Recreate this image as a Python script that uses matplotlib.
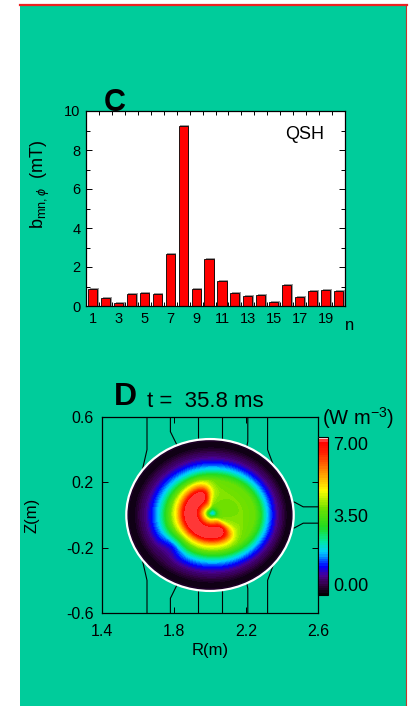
import numpy as np
import matplotlib
matplotlib.use("Agg")
import matplotlib.pyplot as plt
from matplotlib.colors import LinearSegmentedColormap
from matplotlib.patches import Rectangle, Circle
from matplotlib.lines import Line2D
from matplotlib.ticker import MultipleLocator, FixedLocator

plt.rcParams['font.family'] = ['Liberation Sans', 'DejaVu Sans']
plt.rcParams['axes.unicode_minus'] = False
plt.rcParams['mathtext.fontset'] = 'custom'
plt.rcParams['mathtext.rm'] = 'Liberation Sans'
plt.rcParams['mathtext.it'] = 'Liberation Sans:italic'

# ---- panel C : toroidal mode spectrum (QSH) ----
n_modes = np.arange(1, 21)
b_mn = [0.86, 0.43, 0.14, 0.63, 0.68, 0.63, 2.65, 9.21, 0.89, 2.40,
        1.27, 0.68, 0.50, 0.58, 0.19, 1.10, 0.48, 0.75, 0.80, 0.75]
n_ticklabels = ['1', '3', '5', '7', '9', '11', '13', '15', '17', '19']

# ---- panel D : radiated power emissivity ----
R0, a_minor = 2.0, 0.465
# radial emissivity profile (W m^-3) vs normalised radius
rho_pts = [0.0, 0.3, 0.45, 0.52, 0.6, 0.68, 0.76, 0.83, 0.9, 0.96, 1.0]
emis_pts = [3.8, 3.9, 3.7, 3.1, 2.0, 1.3, 0.75, 0.45, 0.12, 0.18, 0.25]
# helical crescent (centre R, z, radius, width, angle, amplitude)
cres_R, cres_z, cres_r, cres_w, cres_th, cres_amp = 2.01, 0.01, 0.118, 0.07, 205.0, 3.6
# flux lines outside the plasma
line_R_far = [1.65, 1.78, 1.935, 2.065, 2.21, 2.32]
line_z_bend = [0.40, 0.51, 0.47, 0.47, 0.45, 0.40]
line_R_end = [1.625, 1.815, 1.935, 2.065, 2.205, 2.35]
side_R = [2.467, 2.518, 2.6]
side_z = [0.08, 0.05, 0.05]

cb_ticks = [0.0, 3.5, 7.0]

W, H = 412, 706
fig = plt.figure(figsize=(W / 100, H / 100), dpi=100, facecolor='white')

# green panel with red border
fig.patches.append(Rectangle((20 / W, 0), 386 / W, 1 - 5 / H, transform=fig.transFigure,
                             facecolor='#00cc9b', edgecolor='none', zorder=-5))
fig.lines.append(Line2D([20 / W, 407 / W], [1 - 5 / H, 1 - 5 / H], transform=fig.transFigure,
                        color='#ee2222', lw=1.6, zorder=-4))
fig.lines.append(Line2D([406 / W, 406 / W], [0, 1 - 5 / H], transform=fig.transFigure,
                        color='#c0392b', lw=0.8, zorder=-4))

def fig_box(left, top, right, bottom):
    return [left / W, 1 - bottom / H, (right - left) / W, (bottom - top) / H]

# ---------------- C ----------------
ax1 = fig.add_axes(fig_box(86, 111, 345, 306))
ax1.set_facecolor('white')
ax1.bar(n_modes + 0.13, np.array(b_mn) + 0.05, width=0.7, color='#999999', zorder=1)
ax1.bar(n_modes, b_mn, width=0.7, color='#ff0000', edgecolor='black', linewidth=0.6, zorder=2)
ax1.set_xlim(0.5, 20.5)
ax1.set_ylim(0, 10)
ax1.set_xticks(np.arange(1, 20, 2))
ax1.set_xticklabels(n_ticklabels)
ax1.xaxis.set_minor_locator(FixedLocator(np.arange(1.5, 20.5, 1)))
ax1.yaxis.set_major_locator(MultipleLocator(2))
ax1.yaxis.set_minor_locator(MultipleLocator(1))
ax1.tick_params(which='both', direction='in', top=True, right=True, labelsize=10.5, width=0.7)
ax1.tick_params(which='major', length=4, pad=4)
ax1.tick_params(which='minor', length=3)
ax1.tick_params(axis='x', which='major', length=0)
for s in ax1.spines.values():
    s.set_linewidth(0.9)
ax1.text(0.92, 0.88, 'QSH', transform=ax1.transAxes, ha='right', va='center', fontsize=13)
fig.text(115 / W, 1 - 103 / H, 'C', fontsize=22, fontweight='bold', ha='center', va='center')
fig.text(350 / W, 1 - 325 / H, 'n', fontsize=12, ha='center', va='center')
fig.text(40 / W, 1 - 184 / H, r'b$_{\mathrm{mn},\phi}$  (mT)', rotation=90, fontsize=13,
         ha='center', va='center')

# ---------------- D ----------------
ax2 = fig.add_axes(fig_box(102, 417, 318, 613))
ax2.set_facecolor('none')

cmap = LinearSegmentedColormap.from_list('rainbow_white', [
    (0.0, '#000000'), (0.06, '#300040'), (0.12, '#4a0090'), (0.18, '#0000ff'),
    (0.27, '#00d0ff'), (0.34, '#00e8a0'), (0.43, '#20dc20'), (0.55, '#70e000'),
    (0.66, '#ffff00'), (0.78, '#ff9000'), (0.9, '#ff2000'), (0.975, '#ff0000'),
    (1.0, '#ffffff')])

Rg, Zg = np.meshgrid(np.linspace(R0 - a_minor, R0 + a_minor, 320),
                     np.linspace(-a_minor, a_minor, 320))
rho_out = np.hypot(Rg - R0, Zg) / a_minor
rho_in = np.hypot((Rg - 2.03) / 1.12, Zg) / a_minor
t = np.clip(rho_out, 0, 1) ** 2
rho = t * rho_out + (1 - t) * rho_in
emis = np.interp(rho, rho_pts, emis_pts)
dR, dZ = Rg - cres_R, Zg - cres_z
d = np.hypot(dR, dZ)
th = np.arctan2(dZ, dR)
ang = 1 / (1 + np.exp(-(np.cos(th - np.radians(cres_th)) - np.cos(np.radians(105))) / 0.12))
emis += cres_amp * ang * np.exp(-((d - cres_r) / cres_w) ** 2)
emis -= 2.0 * np.exp(-(d / 0.03) ** 2)
emis -= 0.6 * np.exp(-((Rg - 1.80) ** 2 + (Zg + 0.18) ** 2) / 0.07 ** 2)
emis = np.clip(emis, 0, 6.9)
emis = np.ma.masked_where(rho_out > 1.0, emis)

cs = ax2.contourf(Rg, Zg, emis, levels=np.linspace(0, 7, 71), cmap=cmap, zorder=1)
ax2.add_patch(Circle((R0, 0), a_minor, fill=False, edgecolor='white', lw=1.6, zorder=3))

for Rf, zb, Re in zip(line_R_far, line_z_bend, line_R_end):
    ze = np.sqrt(a_minor ** 2 - (Re - R0) ** 2) + 0.005
    for sgn in (1, -1):
        ax2.plot([Rf, Rf, Re], [sgn * 0.6, sgn * zb, sgn * ze], color='black', lw=0.8, zorder=2)
for sgn in (1, -1):
    ax2.plot(side_R, [sgn * z for z in side_z], color='black', lw=0.8, zorder=2)

ax2.set_xlim(1.4, 2.6)
ax2.set_ylim(-0.6, 0.6)
ax2.set_xticks([1.4, 1.8, 2.2, 2.6])
ax2.set_yticks([-0.6, -0.2, 0.2, 0.6])
ax2.set_xticklabels(['1.4', '1.8', '2.2', '2.6'])
ax2.set_yticklabels(['-0.6', '-0.2', '0.2', '0.6'])
ax2.tick_params(direction='in', top=True, right=True, length=4, width=0.7, labelsize=11.5)
ax2.tick_params(axis='x', pad=8)
ax2.tick_params(axis='y', pad=6)
for s in ax2.spines.values():
    s.set_linewidth(0.9)
fig.text(210 / W, 1 - 650 / H, 'R(m)', fontsize=12, ha='center', va='center')
fig.text(32 / W, 1 - 515 / H, 'Z(m)', rotation=90, fontsize=12, ha='center', va='center')
fig.text(125 / W, 1 - 397 / H, 'D', fontsize=23, fontweight='bold', ha='center', va='center')
fig.text(147 / W, 1 - 402 / H, 't =  35.8 ms', fontsize=16, ha='left', va='center')

cax = fig.add_axes(fig_box(318, 437, 328, 595))
cb = fig.colorbar(cs, cax=cax, ticks=cb_ticks)
cb.ax.set_yticklabels(['%.2f' % v for v in cb_ticks])
cb.ax.tick_params(length=0, labelsize=13, pad=4)
labs = cb.ax.get_yticklabels()
labs[0].set_va('bottom')
labs[-1].set_va('top')
cb.outline.set_linewidth(0.8)
fig.text(322 / W, 1 - 418 / H, r'(W m$^{-3}$)', fontsize=14.5, ha='left', va='center')

fig.savefig('out.png', dpi=100, facecolor='white')
